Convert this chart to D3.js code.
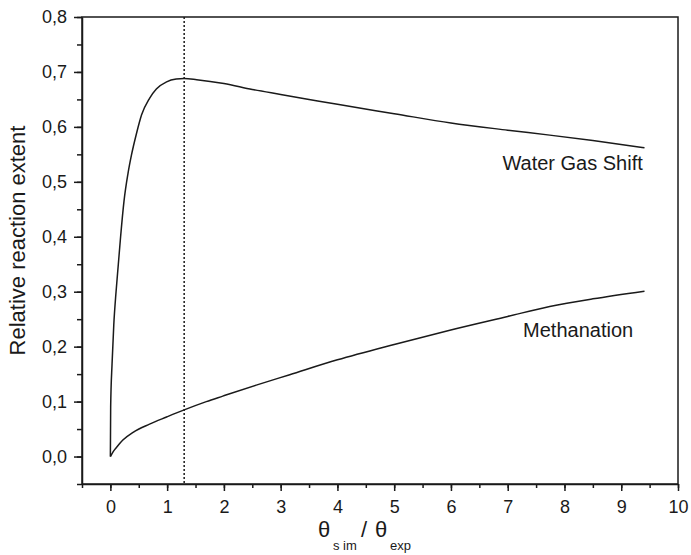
<!DOCTYPE html>
<html>
<head>
<meta charset="utf-8">
<script src="https://cdn.jsdelivr.net/npm/d3@7"></script>
<style>
  body { margin: 0; background: #fff; }
  svg text { font-family: "Liberation Sans", Arial, sans-serif; fill: #1a1a1a; }
</style>
</head>
<body>
<div id="chart"></div>
<script>
// data
let wgsX = [0, 0.005, 0.03, 0.06, 0.1, 0.14, 0.18, 0.24, 0.31, 0.37, 0.46, 0.55, 0.69, 0.81, 0.99, 1.16, 1.3, 1.52, 2, 2.5, 3, 3.5, 4, 5, 6, 7, 7.74, 8.5, 9.41];
let wgsY = [0, 0.09, 0.17, 0.24, 0.30, 0.35, 0.40, 0.465, 0.515, 0.548, 0.588, 0.622, 0.652, 0.669, 0.682, 0.687, 0.688, 0.686, 0.679, 0.668, 0.659, 0.650, 0.641, 0.624, 0.607, 0.594, 0.585, 0.575, 0.562];
let methX = [0, 0.05, 0.11, 0.22, 0.4, 0.69, 0.99, 1.3, 1.69, 1.98, 2.57, 3.16, 4, 5, 5.98, 7, 7.74, 8.5, 9.41];
let methY = [0, 0.009, 0.017, 0.030, 0.044, 0.059, 0.072, 0.085, 0.100, 0.110, 0.130, 0.149, 0.176, 0.204, 0.230, 0.255, 0.273, 0.287, 0.301];
let xTicks = [0, 1, 2, 3, 4, 5, 6, 7, 8, 9, 10];
let yTicks = [0, 0.1, 0.2, 0.3, 0.4, 0.5, 0.6, 0.7, 0.8];
let markerX = 1.3;

let margin = { top: 17, right: 13, bottom: 71, left: 82 };
let width = 691 - margin.left - margin.right,
    height = 555 - margin.top - margin.bottom;

let svg = d3.select("#chart").append("svg")
    .attr("width", 691)
    .attr("height", 555)
    .append("g")
    .attr("transform", "translate(" + margin.left + "," + margin.top + ")");

let x = d3.scaleLinear().domain([-0.5, 10]).range([0, width]);
let y = d3.scaleLinear().domain([-0.05, 0.8]).range([height, 0]);

let ink = "#1a1a1a";

// minor ticks
let xMinor = d3.range(-0.5, 10.01, 0.5);
let yMinor = d3.range(-0.05, 0.801, 0.05);

svg.append("g")
    .attr("transform", "translate(0," + height + ")")
    .call(d3.axisBottom(x).tickValues(xMinor).tickSize(4).tickFormat(""))
    .call(g => g.select(".domain").remove())
    .selectAll("line").attr("stroke", ink).attr("stroke-width", 1.5);
svg.append("g")
    .call(d3.axisLeft(y).tickValues(yMinor).tickSize(5).tickFormat(""))
    .call(g => g.select(".domain").remove())
    .selectAll("line").attr("stroke", ink).attr("stroke-width", 1.5);

// major axes
let xAxis = svg.append("g")
    .attr("transform", "translate(0," + height + ")")
    .call(d3.axisBottom(x).tickValues(xTicks).tickSize(7).tickSizeOuter(0).tickPadding(9)
        .tickFormat(d3.format("d")));
let yAxis = svg.append("g")
    .call(d3.axisLeft(y).tickValues(yTicks).tickSize(8).tickSizeOuter(0).tickPadding(7)
        .tickFormat(d => d3.format(".1f")(d).replace(".", ",")));

[xAxis, yAxis].forEach(a => {
    a.selectAll("path, line").attr("stroke", ink).attr("stroke-width", 1.5);
    a.selectAll("text").style("font-size", "18px").attr("fill", ink);
});

// frame top and right
svg.append("rect")
    .attr("width", width)
    .attr("height", height)
    .attr("fill", "none")
    .attr("stroke", ink)
    .attr("stroke-width", 1.5);

// dotted marker
svg.append("line")
    .attr("x1", x(markerX)).attr("x2", x(markerX))
    .attr("y1", 0).attr("y2", height)
    .attr("stroke", ink)
    .attr("stroke-width", 1.5)
    .attr("stroke-dasharray", "2,2");

let line = d3.line()
    .x(d => x(d[0]))
    .y(d => y(d[1]))
    .curve(d3.curveMonotoneX);

svg.append("path")
    .datum(d3.zip(wgsX, wgsY))
    .attr("d", line)
    .attr("fill", "none")
    .attr("stroke", ink)
    .attr("stroke-width", 1.5);

svg.append("path")
    .datum(d3.zip(methX, methY))
    .attr("d", line)
    .attr("fill", "none")
    .attr("stroke", ink)
    .attr("stroke-width", 1.5);

// curve labels
svg.append("text")
    .attr("x", x(9.38))
    .attr("y", y(0.521))
    .style("text-anchor", "end")
    .style("font-size", "20px")
    .text("Water Gas Shift");
svg.append("text")
    .attr("x", x(9.21))
    .attr("y", y(0.218))
    .style("text-anchor", "end")
    .style("font-size", "20px")
    .text("Methanation");

// axis titles
svg.append("text")
    .attr("transform", "translate(" + (-57) + "," + (height / 2 - 10) + ") rotate(-90)")
    .style("text-anchor", "middle")
    .style("font-size", "22px")
    .text("Relative reaction extent");

let tY = height + 53, sY = height + 66;
svg.append("text").attr("x", 236).attr("y", tY).style("font-size", "22px").text("θ");
svg.append("text").attr("x", 251).attr("y", sY).style("font-size", "13px").text("s im");
svg.append("text").attr("x", 279).attr("y", tY).style("font-size", "22px").text("/");
svg.append("text").attr("x", 293).attr("y", tY).style("font-size", "22px").text("θ");
svg.append("text").attr("x", 308).attr("y", sY).style("font-size", "13px").text("exp");
</script>
</body>
</html>
